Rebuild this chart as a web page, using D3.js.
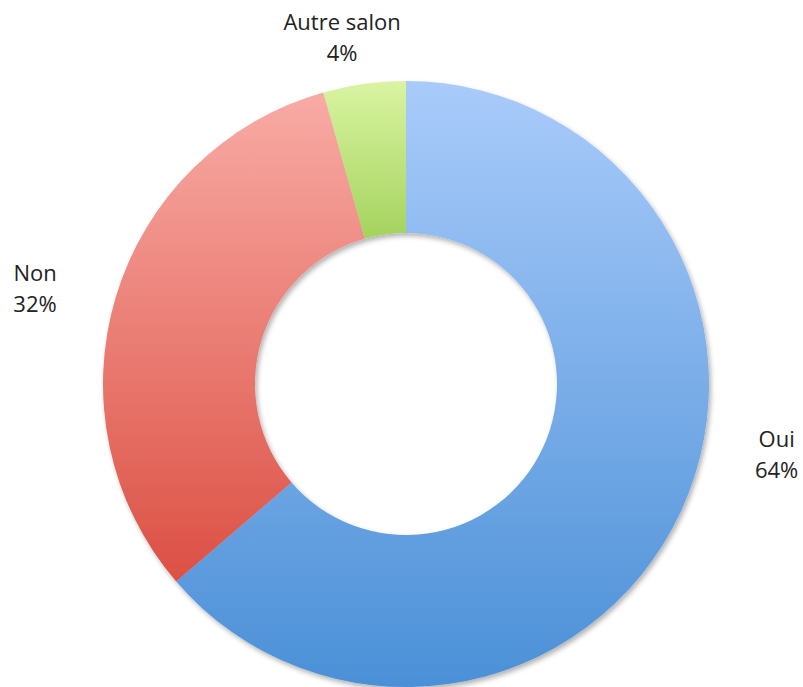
<!DOCTYPE html>
<html>
<head>
<meta charset="utf-8">
<script src="https://cdn.jsdelivr.net/npm/d3@7"></script>
<style>
  body { margin: 0; background: #fff; }
  text { font-family: "Open Sans", Lato, sans-serif; fill: #222; }
</style>
</head>
<body>
<script>
var categories = ["Oui", "Non", "Autre salon"];
var values = [63.7, 31.9, 4.4];
var topColors = ["#a9cbfa", "#f8aba5", "#daf4a2"];
var bottomColors = ["#4b90d7", "#dc5044", "#a4d35e"];

var width = 803, height = 687;
var cx = 406, cy = 384, outerR = 303, innerR = 151;

var data = categories.map(function(c, i) {
    return {name: c, value: values[i]};
});

var svg = d3.select("body").append("svg")
    .attr("width", width)
    .attr("height", height);

var defs = svg.append("defs");

var shadow = defs.append("filter")
    .attr("id", "shadow")
    .attr("x", "-10%").attr("y", "-10%")
    .attr("width", "120%").attr("height", "120%");
shadow.append("feDropShadow")
    .attr("dx", 2).attr("dy", 3)
    .attr("stdDeviation", 2.5)
    .attr("flood-color", "#000")
    .attr("flood-opacity", 0.3);

data.forEach(function(d, i) {
    var g = defs.append("linearGradient")
        .attr("id", "grad" + i)
        .attr("x1", 0).attr("y1", 0)
        .attr("x2", 0).attr("y2", 1);
    g.append("stop").attr("offset", "0%").attr("stop-color", topColors[i]);
    g.append("stop").attr("offset", "100%").attr("stop-color", bottomColors[i]);
});

var pie = d3.pie()
    .sort(null)
    .value(function(d) { return d.value; });

var arc = d3.arc()
    .innerRadius(innerR)
    .outerRadius(outerR);

var arcs = pie(data);

var g = svg.append("g")
    .attr("transform", "translate(" + cx + "," + cy + ")");

g.append("g")
    .attr("filter", "url(#shadow)")
    .selectAll("path")
    .data(arcs)
    .enter().append("path")
    .attr("d", arc)
    .attr("fill", function(d, i) { return "url(#grad" + i + ")"; });

// labels sit outside the ring, nudged like the original layout
var labelArc = d3.arc().innerRadius(outerR + 52).outerRadius(outerR + 52);
var labelOffsets = [[48, -85], [-31, -1], [-15, -2]];

var labels = g.selectAll("text.lbl")
    .data(arcs)
    .enter().append("text")
    .attr("class", "lbl")
    .attr("text-anchor", "middle")
    .attr("font-size", 22)
    .attr("transform", function(d, i) {
        var p = labelArc.centroid(d);
        return "translate(" + (p[0] + labelOffsets[i][0]) + "," + (p[1] + labelOffsets[i][1]) + ")";
    });

labels.append("tspan")
    .attr("x", 0).attr("dy", 0)
    .text(function(d) { return d.data.name; });
labels.append("tspan")
    .attr("x", 0).attr("dy", 31)
    .text(function(d) { return Math.round(d.data.value) + "%"; });
</script>
</body>
</html>
